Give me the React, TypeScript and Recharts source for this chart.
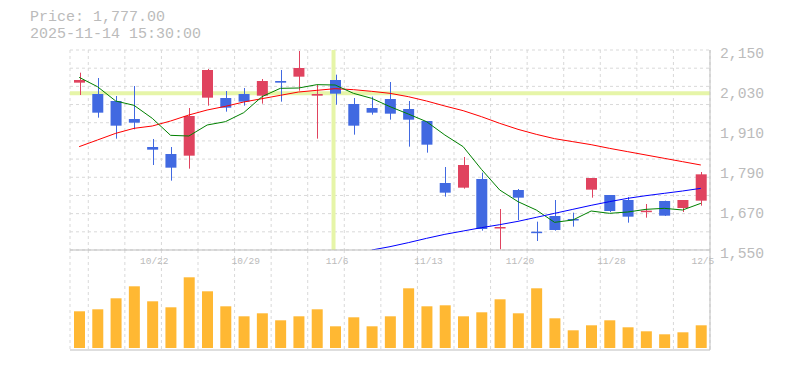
import {
  Bar,
  CartesianGrid,
  ComposedChart,
  Line,
  ReferenceLine,
  XAxis,
  YAxis,
} from "recharts"

const dates = [
  "10/16", "10/17", "10/20", "10/21", "10/22", "10/23", "10/24", "10/27", "10/28", "10/29",
  "10/30", "10/31", "11/4", "11/5", "11/6", "11/7", "11/10", "11/11", "11/12", "11/13",
  "11/14", "11/17", "11/18", "11/19", "11/20", "11/21", "11/25", "11/26", "11/27", "11/28",
  "12/1", "12/2", "12/3", "12/4", "12/5",
]
const opens = [
  2052, 2018, 1997, 1943, 1859, 1838, 1833, 2007, 2006, 2018,
  2013, 2057, 2070, 2013, 2060, 1988, 1976, 2003, 1973, 1937,
  1751, 1737, 1763, 1617, 1730, 1605, 1652, 1643, 1731, 1715,
  1700, 1666, 1697, 1676, 1698,
]
const closes = [
  2060, 1962, 1923, 1932, 1851, 1797, 1952, 2090, 1977, 1995,
  2057, 2052, 2096, 2018, 2019, 1923, 1962, 1959, 1941, 1866,
  1722, 1805, 1613, 1619, 1707, 1603, 1610, 1641, 1766, 1667,
  1650, 1668, 1653, 1700, 1777,
]
const highs = [
  2082, 2066, 2012, 2042, 1883, 1859, 1976, 2093, 2027, 2036,
  2063, 2090, 2147, 2045, 2076, 2006, 2010, 2054, 1997, 1937,
  1799, 1829, 1782, 1673, 1733, 1635, 1700, 1662, 1766, 1715,
  1709, 1688, 1698, 1700, 1784,
]
const lows = [
  2015, 1947, 1884, 1912, 1805, 1758, 1794, 1983, 1965, 1983,
  1989, 1995, 2028, 1884, 1986, 1896, 1956, 1941, 1860, 1842,
  1710, 1734, 1608, 1552, 1640, 1577, 1608, 1620, 1707, 1664,
  1632, 1647, 1652, 1664, 1683,
]
const ma5 = [
  2068, 2040, 1997, 1984, 1945, 1894, 1892, 1925, 1935, 1962,
  2010, 2035, 2036, 2046, 2045, 2020, 2005, 1980, 1958, 1935,
  1895, 1860, 1792, 1730, 1695, 1670, 1633, 1640, 1667, 1660,
  1664, 1672, 1675, 1670, 1690,
]
const ma25 = [
  1860, 1880, 1900, 1915, 1922, 1937, 1955, 1970, 1981, 1994,
  2004, 2014, 2024, 2029, 2034, 2031, 2026, 2020, 2010, 1997,
  1982, 1968, 1950, 1930, 1912, 1897, 1884, 1875, 1866, 1855,
  1845, 1835, 1825, 1815, 1805,
]
const ma75 = [
  null, null, null, null, null, null, null, null, null, null,
  null, null, null, null, null, null, 1550, 1560, 1572, 1585,
  1597, 1607, 1617, 1626, 1636, 1648, 1660, 1672, 1684, 1695,
  1705, 1713, 1720, 1727, 1735,
]
const volumes = [
  367000, 387000, 497000, 617000, 467000, 407000, 707000, 567000, 417000, 317000,
  347000, 277000, 317000, 387000, 217000, 307000, 217000, 317000, 597000, 417000,
  427000, 317000, 357000, 487000, 347000, 597000, 297000, 177000, 227000, 277000,
  207000, 167000, 137000, 157000, 227000,
]

const priceTicks = [1550, 1670, 1790, 1910, 2030, 2150]
const dateTicks = ["10/22", "10/29", "11/6", "11/13", "11/20", "11/28", "12/5"]
const gridRowCount = 11
const crossDate = "11/6"
const crossPrice = 2020
const headerLines = ["Price: 1,777.00", "2025-11-14 15:30:00"]

const UP = "#e0435f"
const DOWN = "#4169e1"
const MONO = "'Liberation Mono', 'DejaVu Sans Mono', monospace"
const TEXT = "#bbbbbb"
const GRID = "#d9d9d9"
const AXIS = "#bdbdbd"
const CROSS = "#e6f5a8"

const data = dates.map((date, i) => ({
  i,
  date,
  open: opens[i],
  close: closes[i],
  high: highs[i],
  low: lows[i],
  range: [lows[i], highs[i]],
  ma5: ma5[i],
  ma25: ma25[i],
  ma75: ma75[i],
  volume: volumes[i],
}))

// category edges, so the dashed lines fall between the candles
const gridCols = [...dates.map((_, i) => i - 0.5), dates.length - 0.5]

const rowLines = ({ offset }: any) =>
  Array.from({ length: gridRowCount + 1 }, (_, r) => offset.top + (offset.height * r) / gridRowCount)

const Candle = (props: any) => {
  const { x, y, width, height, payload } = props
  const { open, close, high, low } = payload
  const top = Math.min(y, y + height)
  const h = Math.abs(height)
  const k = h / (high - low)
  const yOf = (v: number) => top + (high - v) * k
  const color = close >= open ? UP : DOWN
  const cx = Math.round(x + width / 2) + 0.5
  const bodyTop = yOf(Math.max(open, close))
  const bodyH = Math.max(Math.abs(open - close) * k, 1.5)
  return (
    <g>
      <line x1={cx} x2={cx} y1={top} y2={top + h} stroke={color} strokeWidth={1} />
      <rect x={x} y={bodyTop} width={width} height={bodyH} fill={color} />
    </g>
  )
}

const XTick = ({ x, y, payload }: any) => (
  <text x={x} y={y + 14} dx={2} textAnchor="middle" fill={TEXT} fontSize={9.5} fontFamily={MONO}>
    {payload.value}
  </text>
)

const YTick = ({ x, y, payload }: any) => (
  <text x={x} y={y + 3} dy="0.36em" textAnchor="start" fill={TEXT} fontSize={14.7} fontFamily={MONO}>
    {payload.value.toLocaleString("en-US")}
  </text>
)

const layer = { position: "absolute" as const, left: 0, top: 0 }

export default function App() {
  return (
    <div style={{ position: "absolute", left: 0, top: 0, width: 785, height: 370, background: "#fff" }}>
      <div
        style={{
          position: "absolute",
          left: 30,
          top: 9,
          fontFamily: MONO,
          fontSize: 15,
          lineHeight: "17px",
          color: TEXT,
          whiteSpace: "pre",
        }}
      >
        {headerLines.map((t) => (
          <div key={t}>{t}</div>
        ))}
      </div>

      {/* volume panel */}
      <div style={{ ...layer, top: 250 }}>
        <ComposedChart width={785} height={101} data={data} margin={{ top: 0, right: 0, bottom: 0, left: 70 }}>
          <XAxis xAxisId="g" type="number" dataKey="i" domain={[-0.5, dates.length - 0.5]} ticks={gridCols} hide />
          <CartesianGrid xAxisId="g" horizontal={false} stroke={GRID} strokeDasharray="3 3" />
          <XAxis dataKey="date" height={1} tick={false} tickLine={false} axisLine={{ stroke: AXIS }} />
          <YAxis
            orientation="right"
            width={75}
            domain={[-20000, 980000]}
            tick={false}
            tickLine={false}
            axisLine={{ stroke: AXIS }}
          />
          <Bar dataKey="volume" fill="#ffb833" barSize={11} isAnimationActive={false} />
        </ComposedChart>
      </div>

      {/* grid and crosshair, drawn under the candles */}
      <div style={layer}>
        <ComposedChart width={785} height={272} data={data} margin={{ top: 50, right: 75, bottom: 22, left: 70 }}>
          <XAxis xAxisId="g" type="number" dataKey="i" domain={[-0.5, dates.length - 0.5]} ticks={gridCols} hide />
          <XAxis dataKey="date" hide />
          <YAxis domain={[1550, 2150]} allowDataOverflow hide />
          <CartesianGrid
            xAxisId="g"
            stroke={GRID}
            strokeDasharray="3 3"
            horizontalCoordinatesGenerator={rowLines}
          />
          <ReferenceLine x={crossDate} stroke={CROSS} strokeWidth={4} />
          <ReferenceLine y={crossPrice} stroke={CROSS} strokeWidth={4} />
          <Line dataKey="close" stroke="none" dot={false} isAnimationActive={false} />
        </ComposedChart>
      </div>

      {/* price panel */}
      <div style={layer}>
        <ComposedChart width={785} height={272} data={data} margin={{ top: 50, right: 0, bottom: 0, left: 70 }}>
          <XAxis
            dataKey="date"
            height={22}
            ticks={dateTicks}
            interval={0}
            tickLine={false}
            tickSize={0}
            tickMargin={0}
            axisLine={{ stroke: AXIS }}
            tick={<XTick />}
          />
          <YAxis
            orientation="right"
            width={75}
            domain={[1550, 2150]}
            ticks={priceTicks}
            allowDataOverflow
            tickLine={false}
            tickSize={0}
            tickMargin={10}
            axisLine={{ stroke: AXIS }}
            tick={<YTick />}
          />
          <Bar dataKey="range" shape={<Candle />} barSize={11} isAnimationActive={false} />
          <Line dataKey="ma25" stroke="#ff0000" strokeWidth={1} dot={false} isAnimationActive={false} />
          <Line dataKey="ma5" stroke="#008000" strokeWidth={1} dot={false} isAnimationActive={false} />
          <Line dataKey="ma75" stroke="#0000ff" strokeWidth={1} dot={false} isAnimationActive={false} />
        </ComposedChart>
      </div>
    </div>
  )
}
